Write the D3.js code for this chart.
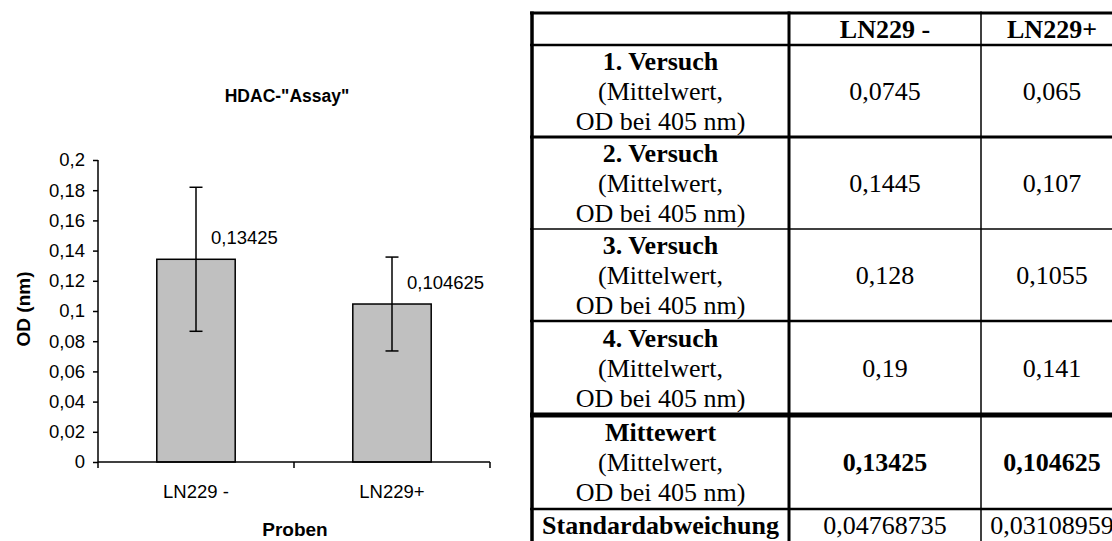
<!DOCTYPE html>
<html>
<head>
<meta charset="utf-8">
<script src="https://cdn.jsdelivr.net/npm/d3@7"></script>
<style>
  html, body { margin: 0; padding: 0; background: #fff; }
  svg { display: block; }
</style>
</head>
<body>
<svg id="fig" width="1112" height="541"></svg>
<script>
// HDAC assay: mean optical density per sample with standard deviation
const samples = ["LN229 -", "LN229+"];
const means = [0.13425, 0.104625];
const stdDevs = [0.04768735, 0.03108959];
const yTicks = [0, 0.02, 0.04, 0.06, 0.08, 0.1, 0.12, 0.14, 0.16, 0.18, 0.2];

// Individual experiments (mean OD at 405 nm)
const trialNames = ["1. Versuch", "2. Versuch", "3. Versuch", "4. Versuch"];
const trialMinus = [0.0745, 0.1445, 0.128, 0.19];
const trialPlus = [0.065, 0.107, 0.1055, 0.141];
const trialNote = ["(Mittelwert,", "OD bei 405 nm)"];

const deNum = v => String(v).replace(".", ",");

const svg = d3.select("#fig");
const sans = "'Liberation Sans', Arial, sans-serif";
const serif = "'Liberation Serif', 'Times New Roman', serif";

// ---------- bar chart ----------
const plot = { left: 98, right: 490, top: 160, bottom: 462 };

const x = d3.scaleBand()
  .domain(samples)
  .range([plot.left, plot.right])
  .paddingInner(0.6)
  .paddingOuter(0.3);

const y = d3.scaleLinear()
  .domain([0, 0.2])
  .range([plot.bottom, plot.top]);

const chart = svg.append("g").attr("class", "chart");

// bars
chart.selectAll("rect.bar")
  .data(samples)
  .join("rect")
  .attr("class", "bar")
  .attr("x", d => x(d))
  .attr("y", (d, i) => y(means[i]))
  .attr("width", x.bandwidth())
  .attr("height", (d, i) => y(0) - y(means[i]))
  .attr("fill", "#c0c0c0")
  .attr("stroke", "#000")
  .attr("stroke-width", 1.5);

// error bars (± standard deviation)
const capW = 13;
const err = chart.selectAll("g.err")
  .data(samples)
  .join("g")
  .attr("class", "err")
  .attr("stroke", "#000")
  .attr("stroke-width", 1.5);
err.append("line")
  .attr("x1", d => x(d) + x.bandwidth() / 2)
  .attr("x2", d => x(d) + x.bandwidth() / 2)
  .attr("y1", (d, i) => y(means[i] + stdDevs[i]))
  .attr("y2", (d, i) => y(means[i] - stdDevs[i]));
[1, -1].forEach(s => {
  err.append("line")
    .attr("x1", d => x(d) + x.bandwidth() / 2 - capW / 2)
    .attr("x2", d => x(d) + x.bandwidth() / 2 + capW / 2)
    .attr("y1", (d, i) => y(means[i] + s * stdDevs[i]))
    .attr("y2", (d, i) => y(means[i] + s * stdDevs[i]));
});

// value labels
chart.selectAll("text.val")
  .data(samples)
  .join("text")
  .attr("class", "val")
  .attr("x", d => x(d) + x.bandwidth() / 2 + 15)
  .attr("y", (d, i) => y(means[i]) - 15)
  .attr("font-family", sans)
  .attr("font-size", 18.5)
  .attr("fill", "#000")
  .text((d, i) => deNum(means[i]));

// y axis
const yAxis = d3.axisLeft(y)
  .tickValues(yTicks)
  .tickFormat(d => deNum(+d.toFixed(2)))
  .tickSize(5)
  .tickPadding(8);
const gy = chart.append("g")
  .attr("transform", `translate(${plot.left},0)`)
  .call(yAxis);
gy.select(".domain").attr("stroke-width", 1.5).attr("d", `M0,${plot.bottom}V${plot.top}`);
gy.selectAll(".tick line").attr("stroke-width", 1.5);
gy.selectAll(".tick text").attr("font-family", sans).attr("font-size", 18.5).attr("fill", "#000");

// x axis: ticks sit on the category boundaries
const gx = chart.append("g")
  .attr("transform", `translate(0,${plot.bottom})`);
gx.append("line")
  .attr("x1", plot.left).attr("x2", plot.right)
  .attr("stroke", "#000").attr("stroke-width", 1.5);
const bounds = [plot.left].concat(samples.map(d => x(d) + x.bandwidth() / 2 + x.step() / 2));
gx.selectAll("line.tk")
  .data(bounds)
  .join("line")
  .attr("class", "tk")
  .attr("x1", d => d).attr("x2", d => d)
  .attr("y1", 0).attr("y2", 6)
  .attr("stroke", "#000").attr("stroke-width", 1.5);
gx.selectAll("text")
  .data(samples)
  .join("text")
  .attr("x", d => x(d) + x.bandwidth() / 2)
  .attr("y", 36)
  .attr("text-anchor", "middle")
  .attr("font-family", sans)
  .attr("font-size", 18.5)
  .attr("fill", "#000")
  .text(d => d);

// titles
chart.append("text")
  .attr("x", 287).attr("y", 102)
  .attr("text-anchor", "middle")
  .attr("font-family", sans).attr("font-weight", "bold").attr("font-size", 17.5)
  .text('HDAC-"Assay"');
chart.append("text")
  .attr("x", 295).attr("y", 536)
  .attr("text-anchor", "middle")
  .attr("font-family", sans).attr("font-weight", "bold").attr("font-size", 19)
  .text("Proben");
chart.append("text")
  .attr("transform", `translate(30,${(plot.top + plot.bottom) / 2 - 2}) rotate(-90)`)
  .attr("text-anchor", "middle")
  .attr("font-family", sans).attr("font-weight", "bold").attr("font-size", 19)
  .text("OD (nm)");

// ---------- results table ----------
const tbl = svg.append("g").attr("class", "table");
const colX = [532, 789, 981, 1123];
const rowY = [13, 45, 137, 229, 321, 415, 509, 546];
const hLineW = [3, 2.5, 3, 1.5, 2.5, 5, 2.5, 3];
const vLineW = [3.5, 3, 1.5, 3];

const rows = [
  { head: null, a: samples[0], b: samples[1], header: true }
].concat(trialNames.map((n, i) => ({ head: n, a: deNum(trialMinus[i]), b: deNum(trialPlus[i]) })))
 .concat([{ head: "Mittewert", a: deNum(means[0]), b: deNum(means[1]), boldVals: true }])
 .concat([{ head: "Standardabweichung", a: deNum(stdDevs[0]), b: deNum(stdDevs[1]), single: true }]);

const colMid = i => (colX[i] + colX[i + 1]) / 2;
const fs = 26;

rows.forEach((r, i) => {
  const top = rowY[i], bot = rowY[i + 1];
  const mid = (top + bot) / 2;
  const g = tbl.append("g").attr("font-family", serif).attr("font-size", fs).attr("fill", "#000");
  if (r.header) {
    [r.a, r.b].forEach((t, k) => {
      g.append("text").attr("x", colMid(k + 1)).attr("y", 38)
        .attr("text-anchor", "middle").attr("font-weight", "bold").text(t);
    });
    return;
  }
  if (r.single) {
    g.append("text").attr("x", colMid(0)).attr("y", 534)
      .attr("text-anchor", "middle").attr("font-weight", "bold").text(r.head);
    [r.a, r.b].forEach((t, k) => {
      g.append("text").attr("x", colMid(k + 1)).attr("y", 534)
        .attr("text-anchor", "middle").text(t);
    });
    return;
  }
  const base = mid + 9;
  g.append("text").attr("x", colMid(0)).attr("y", base - 30)
    .attr("text-anchor", "middle").attr("font-weight", "bold").text(r.head);
  trialNote.forEach((t, k) => {
    g.append("text").attr("x", colMid(0)).attr("y", base + 30 * k)
      .attr("text-anchor", "middle").text(t);
  });
  [r.a, r.b].forEach((t, k) => {
    g.append("text").attr("x", colMid(k + 1)).attr("y", mid + 9)
      .attr("text-anchor", "middle").attr("font-weight", r.boldVals ? "bold" : "normal").text(t);
  });
});

// grid lines
tbl.selectAll("line.h")
  .data(rowY)
  .join("line")
  .attr("class", "h")
  .attr("x1", colX[0] - 2).attr("x2", colX[3] + 2)
  .attr("y1", d => d).attr("y2", d => d)
  .attr("stroke", "#000")
  .attr("stroke-width", (d, i) => hLineW[i]);
tbl.selectAll("line.v")
  .data(colX)
  .join("line")
  .attr("class", "v")
  .attr("x1", d => d).attr("x2", d => d)
  .attr("y1", rowY[0] - 1.5).attr("y2", rowY[rowY.length - 1])
  .attr("stroke", "#000")
  .attr("stroke-width", (d, i) => vLineW[i]);
</script>
</body>
</html>
